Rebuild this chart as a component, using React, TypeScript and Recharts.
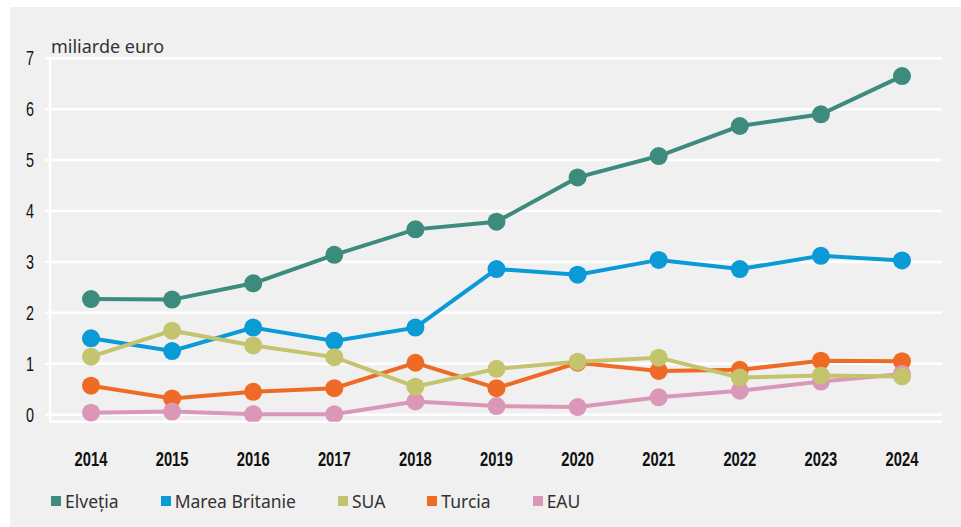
import { LineChart, Line, XAxis, YAxis, CartesianGrid } from 'recharts'

const years = ['2014', '2015', '2016', '2017', '2018', '2019', '2020', '2021', '2022', '2023', '2024']
const elvetia = [2.27, 2.26, 2.58, 3.14, 3.64, 3.79, 4.66, 5.08, 5.67, 5.9, 6.65]
const mareaBritanie = [1.5, 1.25, 1.71, 1.45, 1.71, 2.86, 2.75, 3.04, 2.86, 3.12, 3.03]
const sua = [1.14, 1.65, 1.36, 1.13, 0.55, 0.9, 1.04, 1.12, 0.73, 0.77, 0.75]
const turcia = [0.57, 0.32, 0.45, 0.52, 1.02, 0.52, 1.02, 0.86, 0.88, 1.06, 1.05]
const eau = [0.04, 0.06, 0.01, 0.01, 0.26, 0.17, 0.15, 0.34, 0.47, 0.65, 0.8]
const yTicks = [0, 1, 2, 3, 4, 5, 6, 7]

const series = [
  { key: 'elvetia', name: 'Elveția', color: '#3d8b7d' },
  { key: 'mareaBritanie', name: 'Marea Britanie', color: '#0a9ad6' },
  { key: 'sua', name: 'SUA', color: '#c4c36e' },
  { key: 'turcia', name: 'Turcia', color: '#ef6a24' },
  { key: 'eau', name: 'EAU', color: '#da97b8' },
]
// draw order so that SUA sits on top, as in the original
const drawOrder = ['elvetia', 'mareaBritanie', 'turcia', 'eau', 'sua']

const data = years.map((year, i) => ({
  year,
  elvetia: elvetia[i],
  mareaBritanie: mareaBritanie[i],
  sua: sua[i],
  turcia: turcia[i],
  eau: eau[i],
}))

const tickFont = '"Liberation Sans", Arial, sans-serif'
const textFont = '"Noto Sans", "Open Sans", sans-serif'

// the original uses a condensed face; squeeze a regular one horizontally
function XTick({ x, y, payload }: any) {
  return (
    <text
      transform={`translate(${x},${y}) scale(0.72,1)`}
      textAnchor="middle"
      dy="0.66em"
      fill="#111"
      fontSize={20.5}
      fontWeight={700}
      fontFamily={tickFont}
    >
      {payload.value}
    </text>
  )
}

function YTick({ x, y, payload }: any) {
  return (
    <text
      transform={`translate(${x},${y}) scale(0.72,1)`}
      textAnchor="end"
      dy="0.355em"
      fill="#111"
      fontSize={20}
      fontFamily={tickFont}
    >
      {payload.value}
    </text>
  )
}

export default function App() {
  return (
    <div style={{ position: 'absolute', left: 0, top: 0, width: 961, height: 527, background: '#fff' }}>
      <div style={{ position: 'absolute', left: 10, top: 7, width: 951, height: 520, background: '#f0f0f0' }}>
        <div
          style={{
            position: 'absolute', left: 41, top: 29, fontFamily: textFont, fontSize: 18,
            lineHeight: '20px', color: '#333',
          }}
        >
          miliarde euro
        </div>
        <LineChart
          width={951}
          height={520}
          data={data}
          margin={{ top: 51.3, right: 19, bottom: 75.2, left: 0 }}
        >
          <CartesianGrid vertical={false} stroke="#ffffff" strokeWidth={2.5} />
          <XAxis
            dataKey="year"
            axisLine={false}
            tickLine={false}
            tickSize={0}
            tickMargin={31}
            height={30}
            padding={{ left: 41, right: 40 }}
            tick={<XTick />}
          />
          <YAxis
            width={40}
            domain={[-0.14, 7]}
            ticks={yTicks}
            allowDataOverflow
            axisLine={{ stroke: '#ffffff', strokeWidth: 2.5 }}
            tickLine={{ stroke: '#ffffff', strokeWidth: 2.5 }}
            tickSize={5}
            tickMargin={11}
            tick={<YTick />}
          />
          {drawOrder.map((k) => {
            const s = series.find((x) => x.key === k)!
            return (
              <Line
                key={s.key}
                type="linear"
                dataKey={s.key}
                name={s.name}
                stroke={s.color}
                strokeWidth={4}
                dot={{ r: 9, fill: s.color, stroke: 'none' }}
                activeDot={false}
                isAnimationActive={false}
              />
            )
          })}
        </LineChart>
        <div
          style={{
            position: 'absolute', left: 41, top: 482, display: 'flex', alignItems: 'center',
            fontFamily: textFont, fontSize: 17.5, color: '#333',
          }}
        >
          {series.map((s) => (
            <div key={s.key} style={{ display: 'flex', alignItems: 'center', marginRight: 42 }}>
              <span style={{ display: 'inline-block', width: 10, height: 10, background: s.color, marginRight: 4 }} />
              <span>{s.name}</span>
            </div>
          ))}
        </div>
      </div>
    </div>
  )
}
